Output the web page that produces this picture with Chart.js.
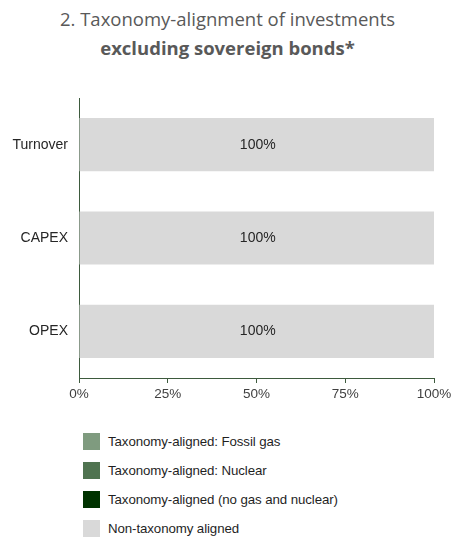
<!DOCTYPE html>
<html>
<head>
<meta charset="utf-8">
<script src="https://cdn.jsdelivr.net/npm/chart.js@4/dist/chart.umd.min.js"></script>
<style>
  html, body { margin: 0; padding: 0; background: #fff; }
  #wrap { position: relative; width: 455px; height: 537px; overflow: hidden; }
  #title { position: absolute; left: 0; top: 4px; width: 455px; text-align: center;
           font-family: "Open Sans", sans-serif; font-size: 18.5px; line-height: 29px; color: #595959; }
  #title b { font-weight: 700; }
  #chartBox { position: absolute; left: 0; top: 0; width: 455px; height: 420px; }
  #legend { position: absolute; left: 83px; top: 433px; font-family: "Liberation Sans", Arial, sans-serif;
            font-size: 13.3px; color: #1f1f1f; }
  #legend .item { height: 29px; display: flex; align-items: flex-start; }
  #legend .sw { width: 17px; height: 17px; margin-right: 8px; }
  #legend .lb { line-height: 17px; letter-spacing: -0.1px; }
</style>
</head>
<body>
<div id="wrap">
  <div id="title">2. Taxonomy-alignment of investments<br><b>excluding sovereign bonds*</b></div>
  <div id="chartBox"><canvas id="chart" width="455" height="420"></canvas></div>
  <div id="legend"></div>
</div>
<script>
// chart data
var categories = ['Turnover', 'CAPEX', 'OPEX'];
var seriesNames = ['Taxonomy-aligned: Fossil gas', 'Taxonomy-aligned: Nuclear',
                   'Taxonomy-aligned (no gas and nuclear)', 'Non-taxonomy aligned'];
var fossilGas = [0, 0, 0];
var nuclear = [0, 0, 0];
var alignedOther = [0, 0, 0];
var nonAligned = [100, 100, 100];
var xTicks = [0, 25, 50, 75, 100];

var seriesColors = ['#7f9b7f', '#4f7350', '#003300', '#d9d9d9'];
var seriesValues = [fossilGas, nuclear, alignedOther, nonAligned];

var datasets = seriesNames.map(function(name, i) {
  return {
    label: name,
    data: seriesValues[i],
    backgroundColor: seriesColors[i],
    borderWidth: 0,
    barPercentage: 0.57,
    categoryPercentage: 1
  };
});

// draw value labels in the middle of each non-zero bar segment
var barLabels = {
  id: 'barLabels',
  afterDatasetsDraw: function(chart) {
    var ctx = chart.ctx;
    ctx.save();
    ctx.font = '14px "Liberation Sans", Arial, sans-serif';
    ctx.fillStyle = '#262626';
    ctx.textAlign = 'center';
    ctx.textBaseline = 'middle';
    chart.data.datasets.forEach(function(ds, di) {
      var meta = chart.getDatasetMeta(di);
      meta.data.forEach(function(bar, i) {
        var v = ds.data[i];
        if (!v) return;
        ctx.fillText(v + '%', (bar.x + bar.base) / 2 + 1, bar.y);
      });
    });
    ctx.restore();
  }
};

var axisColor = '#3d5a3d';

new Chart(document.getElementById('chart'), {
  type: 'bar',
  data: { labels: categories, datasets: datasets },
  plugins: [barLabels],
  options: {
    indexAxis: 'y',
    responsive: false,
    animation: false,
    layout: { padding: { top: 98, right: 21, bottom: 0, left: 0 } },
    plugins: {
      legend: { display: false },
      tooltip: { enabled: false }
    },
    scales: {
      x: {
        stacked: true,
        min: 0,
        max: 100,
        afterBuildTicks: function(scale) {
          scale.ticks = xTicks.map(function(v) { return { value: v }; });
        },
        afterFit: function(scale) { scale.height = 42; },
        grid: { drawOnChartArea: false, drawTicks: true, tickLength: 5, color: axisColor, lineWidth: 1 },
        border: { display: true, color: axisColor, width: 1 },
        ticks: {
          padding: 3,
          color: '#404040',
          font: { family: '"Liberation Sans", Arial, sans-serif', size: 13.5 },
          callback: function(v) { return v + '%'; }
        }
      },
      y: {
        stacked: true,
        afterFit: function(scale) { scale.width = 79; },
        grid: { display: false, drawTicks: false },
        border: { display: true, color: axisColor, width: 1 },
        ticks: {
          padding: 11,
          color: '#262626',
          font: { family: '"Liberation Sans", Arial, sans-serif', size: 14 }
        }
      }
    }
  }
});

// legend built from the same series arrays
var legend = document.getElementById('legend');
seriesNames.forEach(function(name, i) {
  var row = document.createElement('div');
  row.className = 'item';
  row.innerHTML = '<div class="sw" style="background:' + seriesColors[i] + '"></div><div class="lb">' + name + '</div>';
  legend.appendChild(row);
});
</script>
</body>
</html>
